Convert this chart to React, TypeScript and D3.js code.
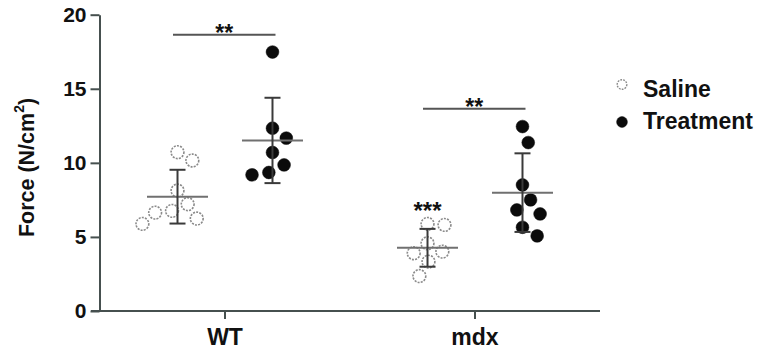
import { useEffect, useRef } from "react";
import * as d3 from "d3";

// groups on the x axis and the two treatments
const categories = ["WT", "mdx"];
const seriesNames = ["Saline", "Treatment"];

// individual animals, force in N/cm2
const wtSaline = [10.72, 10.16, 8.13, 7.21, 6.76, 6.64, 6.24, 5.88];
const wtTreatment = [17.48, 12.34, 11.67, 10.7, 9.86, 9.35, 9.19];
const mdxSaline = [5.88, 5.81, 4.57, 4.01, 3.9, 3.33, 2.36];
const mdxTreatment = [12.45, 11.37, 8.51, 7.5, 6.82, 6.55, 5.65, 5.07];

const yTicks = [0, 5, 10, 15, 20];

// significance brackets between saline and treatment, drawn at these heights
const bracketGroups = ["WT", "mdx"];
const bracketLevels = [18.65, 13.65];
const bracketLabels = ["**", "**"];

// star above mdx saline (vs WT saline)
const starGroup = "mdx";
const starSeries = "Saline";
const starLevel = 7.1;
const starLabel = "***";

interface Cell {
  group: string;
  series: string;
  values: number[];
}

const cells: Cell[] = [
  { group: "WT", series: "Saline", values: wtSaline },
  { group: "WT", series: "Treatment", values: wtTreatment },
  { group: "mdx", series: "Saline", values: mdxSaline },
  { group: "mdx", series: "Treatment", values: mdxTreatment },
];

const W = 762;
const H = 351;
const FONT = "'Liberation Sans', Arial, Helvetica, sans-serif";
const AXIS = "#46504f";

/** Simple greedy beeswarm: y fixed, x as close to the centre as collisions allow. */
function swarm(ys: number[], center: number, dist: number) {
  const placed: { x: number; y: number }[] = [];
  ys.forEach((py) => {
    const cands = [center];
    placed.forEach((p) => {
      const dy = Math.abs(p.y - py);
      if (dy < dist) {
        const dx = Math.sqrt(dist * dist - dy * dy);
        cands.push(p.x + dx, p.x - dx);
      }
    });
    const ok = cands.filter((c) =>
      placed.every((p) => Math.hypot(p.x - c, p.y - py) >= dist - 1e-6),
    );
    ok.sort((a, b) => Math.abs(a - center) - Math.abs(b - center) || b - a);
    placed.push({ x: ok[0], y: py });
  });
  return placed;
}

export default function App() {
  const svgRef = useRef<SVGSVGElement>(null);

  useEffect(() => {
    if (!svgRef.current) return;
    const svg = d3.select(svgRef.current);
    svg.selectAll("*").remove();

    const y = d3.scaleLinear().domain([0, 20]).range([311, 14.7]);
    const x0 = d3.scaleBand<string>().domain(categories).range([100, 600]).padding(0);
    const x1 = d3
      .scalePoint<string>()
      .domain(seriesNames)
      .range([0, x0.bandwidth()])
      .padding(0.816);
    const cx = (g: string, s: string) => (x0(g) ?? 0) + (x1(s) ?? 0);

    const r = 6.4;

    // y axis
    const yAxis = svg
      .append("g")
      .attr("transform", "translate(99.5,0)")
      .call(d3.axisLeft(y).tickValues(yTicks).tickSize(9).tickSizeOuter(0).tickPadding(4));
    yAxis.select(".domain").attr("stroke", AXIS).attr("stroke-width", 2);
    yAxis.selectAll(".tick line").attr("stroke", AXIS).attr("stroke-width", 2);
    yAxis
      .selectAll(".tick text")
      .attr("fill", "#111")
      .style("font-family", FONT)
      .style("font-size", "21px")
      .style("font-weight", "bold");

    // x axis
    svg
      .append("line")
      .attr("x1", 91)
      .attr("x2", x0.range()[1])
      .attr("y1", y(0))
      .attr("y2", y(0))
      .attr("stroke", AXIS)
      .attr("stroke-width", 2);
    const xAxis = svg
      .append("g")
      .attr("transform", `translate(0,${y(0)})`)
      .call(d3.axisBottom(x0).tickSize(8).tickSizeOuter(0).tickPadding(10));
    xAxis.select(".domain").remove();
    xAxis.selectAll(".tick line").attr("stroke", AXIS).attr("stroke-width", 2);
    xAxis
      .selectAll(".tick text")
      .attr("fill", "#111")
      .style("font-family", FONT)
      .style("font-size", "23px")
      .style("font-weight", "bold");

    // y label
    const yl = svg
      .append("text")
      .attr("transform", "translate(27,167.5) rotate(-90)")
      .attr("text-anchor", "middle")
      .attr("dominant-baseline", "central")
      .attr("fill", "#111")
      .style("font-family", FONT)
      .style("font-size", "21.5px")
      .style("font-weight", "bold");
    yl.append("tspan").text("Force (N/cm");
    yl.append("tspan").attr("baseline-shift", "super").style("font-size", "14px").text("2");
    yl.append("tspan").text(")");

    cells.forEach((c) => {
      const center = cx(c.group, c.series);
      const mean = d3.mean(c.values) ?? 0;
      const sd = d3.deviation(c.values) ?? 0;
      const sorted = [...c.values].sort((a, b) => b - a);
      const pts = swarm(sorted.map((v) => y(v)), center, 17);

      const g = svg.append("g");
      const saline = c.series === "Saline";
      g.selectAll("circle")
        .data(pts)
        .join("circle")
        .attr("cx", (d) => d.x)
        .attr("cy", (d) => d.y)
        .attr("r", r)
        .attr("fill", saline ? "#fff" : "#0b0b0b")
        .attr("stroke", saline ? "#8a8a8a" : "#0b0b0b")
        .attr("stroke-width", saline ? 1.6 : 0.5)
        .attr("stroke-dasharray", saline ? "2 1.2" : null);

      // mean line
      g.append("line")
        .attr("x1", center - 30.5)
        .attr("x2", center + 30.5)
        .attr("y1", y(mean))
        .attr("y2", y(mean))
        .attr("stroke", "#707070")
        .attr("stroke-width", 2);
      // sd whisker
      g.append("line")
        .attr("x1", center)
        .attr("x2", center)
        .attr("y1", y(mean + sd))
        .attr("y2", y(mean - sd))
        .attr("stroke", "#3a3a3a")
        .attr("stroke-width", 2);
      [mean + sd, mean - sd].forEach((v) =>
        g
          .append("line")
          .attr("x1", center - 8)
          .attr("x2", center + 8)
          .attr("y1", y(v))
          .attr("y2", y(v))
          .attr("stroke", "#3a3a3a")
          .attr("stroke-width", 2),
      );
    });

    // significance brackets
    bracketGroups.forEach((grp, i) => {
      const xa = cx(grp, seriesNames[0]) - 4.5;
      const xb = cx(grp, seriesNames[1]) + 3;
      const yy = y(bracketLevels[i]);
      svg
        .append("line")
        .attr("x1", xa)
        .attr("x2", xb)
        .attr("y1", yy)
        .attr("y2", yy)
        .attr("stroke", "#555")
        .attr("stroke-width", 2);
      svg
        .append("text")
        .attr("x", (xa + xb) / 2)
        .attr("y", yy + 6)
        .attr("text-anchor", "middle")
        .attr("fill", "#111")
        .style("font-family", FONT)
        .style("font-size", "23px")
        .style("font-weight", "bold")
        .text(bracketLabels[i]);
    });

    svg
      .append("text")
      .attr("x", cx(starGroup, starSeries))
      .attr("y", y(starLevel) + 13)
      .attr("text-anchor", "middle")
      .attr("fill", "#111")
      .style("font-family", FONT)
      .style("font-size", "24px")
      .style("font-weight", "bold")
      .text(starLabel);

    // legend
    const legend = svg.append("g").attr("transform", "translate(622,0)");
    seriesNames.forEach((s, i) => {
      const ly = 88.5 + i * 32;
      const saline = s === "Saline";
      legend
        .append("circle")
        .attr("cx", 0)
        .attr("cy", ly - (saline ? 4 : -1.5))
        .attr("r", saline ? 4.8 : 5.4)
        .attr("fill", saline ? "#fff" : "#0b0b0b")
        .attr("stroke", saline ? "#8a8a8a" : "#0b0b0b")
        .attr("stroke-width", saline ? 1.4 : 0.5)
        .attr("stroke-dasharray", saline ? "1.8 1.1" : null);
      legend
        .append("text")
        .attr("x", 21)
        .attr("y", ly)
        .attr("dominant-baseline", "central")
        .attr("fill", "#111")
        .style("font-family", FONT)
        .style("font-size", "23px")
        .style("font-weight", "bold")
        .text(s);
    });
  }, []);

  return (
    <svg
      ref={svgRef}
      width={W}
      height={H}
      style={{ position: "absolute", left: 0, top: 0, background: "#fff" }}
      role="img"
      aria-label="Force by genotype and treatment"
    />
  );
}
